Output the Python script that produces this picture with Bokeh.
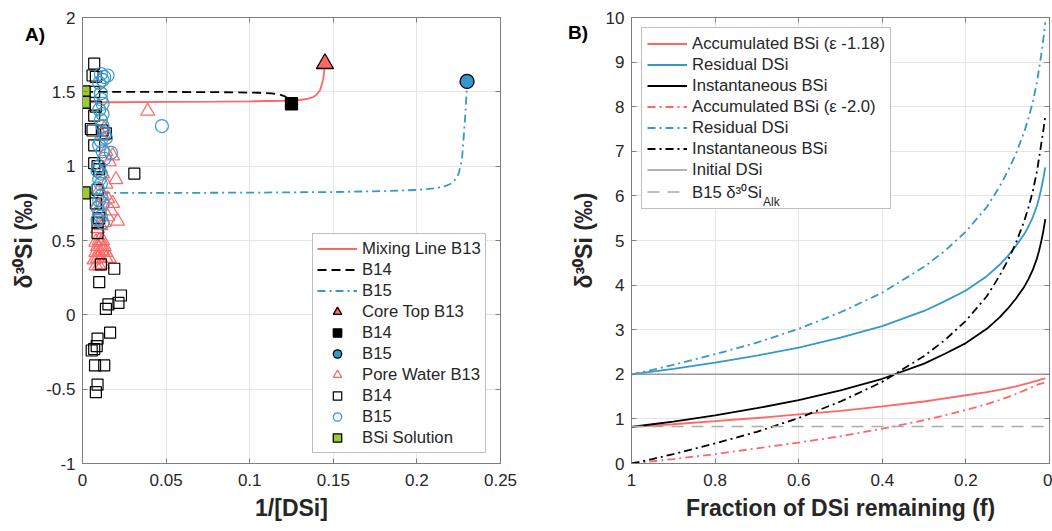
from bokeh.plotting import figure
from bokeh.models import (Range1d, FixedTicker, CustomJSTickFormatter, LinearAxis,
                          Legend, LegendItem)
from bokeh.layouts import row
from bokeh.embed import file_html
from bokeh.resources import INLINE

# ---------------- Panel A data ----------------
mix_b13_x = [0.001, 0.02, 0.05, 0.08, 0.10, 0.12, 0.13, 0.135, 0.138, 0.140, 0.142, 0.143, 0.144, 0.1445, 0.145]
mix_b13_y = [1.43, 1.43, 1.432, 1.434, 1.436, 1.440, 1.445, 1.455, 1.465, 1.48, 1.51, 1.545, 1.59, 1.63, 1.69]
mix_b14_x = [0.001, 0.03, 0.06, 0.09, 0.105, 0.113, 0.118, 0.121, 0.123, 0.1245, 0.125]
mix_b14_y = [1.50, 1.50, 1.499, 1.497, 1.494, 1.490, 1.482, 1.470, 1.455, 1.44, 1.42]
mix_b15_x = [0.001, 0.05, 0.10, 0.15, 0.18, 0.20, 0.21, 0.216, 0.22, 0.223, 0.225, 0.227, 0.228, 0.229, 0.2295, 0.230]
mix_b15_y = [0.82, 0.82, 0.822, 0.826, 0.832, 0.84, 0.85, 0.862, 0.88, 0.91, 0.95, 1.05, 1.20, 1.35, 1.45, 1.57]

core_b13_x = [0.145]
core_b13_y = [1.69]
core_b14_x = [0.125]
core_b14_y = [1.42]
core_b15_x = [0.230]
core_b15_y = [1.57]

pw_b13_x = [0.008, 0.010, 0.012, 0.007, 0.009, 0.011, 0.014, 0.016, 0.008, 0.010, 0.012, 0.014,
            0.009, 0.011, 0.013, 0.010, 0.012, 0.008, 0.009, 0.011, 0.013, 0.015, 0.021, 0.017,
            0.018, 0.015, 0.012, 0.010, 0.014, 0.020, 0.012, 0.016, 0.018, 0.014, 0.012, 0.013,
            0.039, 0.010, 0.009]
pw_b13_y = [0.33, 0.33, 0.34, 0.37, 0.38, 0.38, 0.38, 0.38, 0.42, 0.42, 0.43, 0.42,
            0.46, 0.47, 0.46, 0.50, 0.50, 0.49, 0.58, 0.60, 0.62, 0.66, 0.63, 0.70,
            0.75, 0.78, 0.80, 0.84, 0.88, 0.91, 0.95, 1.03, 1.07, 1.10, 1.20, 1.25,
            1.37, 0.70, 0.74]

pw_b14_x = [0.007, 0.006, 0.008, 0.007, 0.008, 0.007, 0.005, 0.006, 0.014, 0.012, 0.007, 0.007,
            0.009, 0.031, 0.010, 0.009, 0.008, 0.010, 0.009, 0.009, 0.011, 0.019, 0.010, 0.023,
            0.0215, 0.0155, 0.014, 0.0165, 0.009, 0.0085, 0.0055, 0.007, 0.0075, 0.013, 0.009, 0.008]
pw_b14_y = [1.69, 1.61, 1.60, 1.50, 1.40, 1.34, 1.25, 1.24, 1.22, 1.24, 1.14, 1.02,
            1.00, 0.95, 0.98, 0.84, 0.75, 0.65, 0.62, 0.55, 0.34, 0.31, 0.22, 0.13,
            0.08, 0.07, 0.04, -0.12, -0.16, -0.21, -0.24, -0.23, -0.34, -0.34, -0.47, -0.52]

pw_b15_x = [0.011, 0.013, 0.015, 0.012, 0.010, 0.011, 0.011, 0.012, 0.010, 0.012, 0.011, 0.012,
            0.013, 0.014, 0.011, 0.010, 0.012, 0.017, 0.013, 0.010, 0.009, 0.011, 0.010, 0.011,
            0.009, 0.011, 0.010, 0.012, 0.009, 0.010, 0.011, 0.009, 0.012, 0.0475]
pw_b15_y = [1.62, 1.60, 1.61, 1.58, 1.56, 1.49, 1.45, 1.42, 1.38, 1.35, 1.31, 1.27,
            1.22, 1.19, 1.17, 1.14, 1.10, 1.09, 1.05, 1.00, 0.97, 0.95, 0.91, 0.88,
            0.85, 0.80, 0.77, 0.75, 0.72, 0.69, 0.66, 0.64, 0.62, 1.27]

bsi_x = [0.001, 0.001, 0.001]
bsi_y = [1.50, 1.43, 0.82]

a_xticks = [0, 0.05, 0.1, 0.15, 0.2, 0.25]
a_yticks = [-1, -0.5, 0, 0.5, 1, 1.5, 2]

# ---------------- Panel B data ----------------
f_vals = [1.0, 0.95, 0.9, 0.8, 0.7, 0.6, 0.5, 0.4, 0.3, 0.25, 0.2, 0.15, 0.12, 0.1,
          0.08, 0.06, 0.05, 0.04, 0.03, 0.025, 0.02, 0.015, 0.01]
acc_118 = [0.82, 0.85, 0.88, 0.95, 1.02, 1.10, 1.18, 1.28, 1.39, 1.46, 1.53, 1.60, 1.65, 1.69,
           1.73, 1.78, 1.80, 1.83, 1.86, 1.87, 1.89, 1.90, 1.91]
res_118 = [2.00, 2.06, 2.12, 2.26, 2.42, 2.60, 2.82, 3.08, 3.42, 3.64, 3.88, 4.20, 4.45, 4.65,
           4.88, 5.15, 5.32, 5.52, 5.78, 5.95, 6.15, 6.38, 6.64]
inst_118 = [0.82, 0.88, 0.94, 1.08, 1.24, 1.42, 1.64, 1.90, 2.24, 2.46, 2.70, 3.02, 3.27, 3.47,
            3.70, 3.97, 4.14, 4.34, 4.60, 4.77, 4.97, 5.20, 5.48]
acc_20 = [0.00, 0.05, 0.10, 0.21, 0.34, 0.47, 0.61, 0.78, 0.97, 1.08, 1.20, 1.33, 1.42, 1.49,
          1.56, 1.64, 1.68, 1.72, 1.76, 1.78, 1.79, 1.80, 1.82]
res_20 = [2.00, 2.10, 2.21, 2.45, 2.71, 3.02, 3.39, 3.83, 4.41, 4.77, 5.20, 5.75, 6.20, 6.55,
          6.95, 7.45, 7.75, 8.10, 8.55, 8.85, 9.15, 9.50, 9.89]
inst_20 = [0.00, 0.10, 0.21, 0.45, 0.71, 1.02, 1.39, 1.83, 2.41, 2.77, 3.20, 3.75, 4.20, 4.55,
           4.95, 5.45, 5.75, 6.10, 6.55, 6.85, 7.15, 7.45, 7.80]
f_span = [1.0, 0.0]
initial_dsi = [2.0, 2.0]
b15_alk = [0.83, 0.83]

b_xticks = [0, 0.2, 0.4, 0.6, 0.8, 1]
b_yticks = [0, 1, 2, 3, 4, 5, 6, 7, 8, 9, 10]

# ---------------- styling ----------------
FONT = "Liberation Sans"
TXT = "#262626"
AX = "#7f7f7f"
GRID = "#e6e6e6"
RED = "#ff6666"
BLUE = "#3399cc"
GREEN = "#99cc33"
GRAY = "#999999"

fmt = CustomJSTickFormatter(code="return tick.toString()")
nofmt = CustomJSTickFormatter(code="return ''")


def style(p, xticks, yticks, xlabel, ylabel):
    p.outline_line_color = AX
    p.xgrid.grid_line_color = GRID
    p.ygrid.grid_line_color = GRID
    for ax, ticks, lab, so in ((p.xaxis[0], xticks, xlabel, 10), (p.yaxis[0], yticks, ylabel, 7)):
        ax.ticker = FixedTicker(ticks=ticks, minor_ticks=[])
        ax.formatter = fmt
        ax.axis_line_color = AX
        ax.major_tick_line_color = AX
        ax.major_tick_in = 5
        ax.major_tick_out = 0
        ax.minor_tick_line_color = None
        ax.major_label_text_font = FONT
        ax.major_label_text_font_size = "17px"
        ax.major_label_text_color = TXT
        ax.major_label_standoff = so
        ax.axis_label = lab
        ax.axis_label_text_font = FONT
        ax.axis_label_text_font_size = "23px"
        ax.axis_label_text_font_style = "bold"
        ax.axis_label_text_color = TXT
        ax.axis_label_standoff = 6
    p.xgrid.ticker = FixedTicker(ticks=xticks)
    p.ygrid.ticker = FixedTicker(ticks=yticks)
    for loc, ticks in (("right", yticks), ("above", xticks)):
        ax = LinearAxis(ticker=FixedTicker(ticks=ticks, minor_ticks=[]), formatter=nofmt,
                        axis_line_color=AX, major_tick_line_color=AX, major_tick_in=5,
                        major_tick_out=0, minor_tick_line_color=None,
                        major_label_text_font_size="0px", major_label_standoff=0)
        p.add_layout(ax, loc)


def legend(items, **kw):
    return Legend(items=items, label_text_font=FONT, label_text_font_size="16.7px",
                  label_text_color=TXT, glyph_width=40, glyph_height=21, label_height=21,
                  spacing=0, label_standoff=5, border_line_color=AX, **kw)


# ---------------- Panel A ----------------
pa = figure(frame_width=418, frame_height=446, min_border_left=82, min_border_right=20,
            min_border_top=17, min_border_bottom=60, x_range=Range1d(0, 0.25),
            y_range=Range1d(-1, 2), output_backend="svg", toolbar_location=None)
style(pa, a_xticks, a_yticks, "1/[DSi]", "δ³⁰Si (‰)")

r_mix13 = pa.line(mix_b13_x, mix_b13_y, line_color=RED, line_width=1.8)
r_mix14 = pa.line(mix_b14_x, mix_b14_y, line_color="black", line_width=1.8, line_dash="9 5")
r_mix15 = pa.line(mix_b15_x, mix_b15_y, line_color=BLUE, line_width=1.8, line_dash="8 4 2 4")

r_pw13 = pa.scatter(pw_b13_x, pw_b13_y, marker="triangle", size=14, fill_color=None,
                    line_color=RED, line_width=1.2)
r_pw14 = pa.scatter(pw_b14_x, pw_b14_y, marker="square", size=11, fill_color=None,
                    line_color="black", line_width=1.2)
r_pw15 = pa.scatter(pw_b15_x, pw_b15_y, marker="circle", size=13, fill_color=None,
                    line_color=BLUE, line_width=1.2)

r_c13 = pa.scatter(core_b13_x, core_b13_y, marker="triangle", size=17, fill_color=RED,
                   line_color="black", line_width=1.3)
r_c14 = pa.scatter(core_b14_x, core_b14_y, marker="square", size=12, fill_color="black",
                   line_color="black", line_width=1.3)
r_c15 = pa.scatter(core_b15_x, core_b15_y, marker="circle", size=14, fill_color=BLUE,
                   line_color="black", line_width=1.3)
r_bsi = pa.scatter(bsi_x, bsi_y, marker="square", size=12, fill_color=GREEN,
                   line_color="black", line_width=1.3)

pa.add_layout(legend([
    LegendItem(label="Mixing Line B13", renderers=[r_mix13]),
    LegendItem(label="B14", renderers=[r_mix14]),
    LegendItem(label="B15", renderers=[r_mix15]),
    LegendItem(label="Core Top B13", renderers=[r_c13]),
    LegendItem(label="B14", renderers=[r_c14]),
    LegendItem(label="B15", renderers=[r_c15]),
    LegendItem(label="Pore Water B13", renderers=[r_pw13]),
    LegendItem(label="B14", renderers=[r_pw14]),
    LegendItem(label="B15", renderers=[r_pw15]),
    LegendItem(label="BSi Solution", renderers=[r_bsi]),
], location=(230, 10), padding=4, margin=0))

# ---------------- Panel B ----------------
pb = figure(frame_width=418, frame_height=446, min_border_left=111, min_border_right=3,
            min_border_top=17, min_border_bottom=60, x_range=Range1d(1, 0),
            y_range=Range1d(0, 10), output_backend="svg", toolbar_location=None)
style(pb, b_xticks, b_yticks, "Fraction of DSi remaining (f)", "δ³⁰Si (‰)")

DD = "8 4 2 4"
r_b1 = pb.line(f_vals, acc_118, line_color=RED, line_width=1.8)
r_b2 = pb.line(f_vals, res_118, line_color=BLUE, line_width=1.8)
r_b3 = pb.line(f_vals, inst_118, line_color="black", line_width=1.8)
r_b4 = pb.line(f_vals, acc_20, line_color=RED, line_width=1.8, line_dash=DD)
r_b5 = pb.line(f_vals, res_20, line_color=BLUE, line_width=1.8, line_dash=DD)
r_b6 = pb.line(f_vals, inst_20, line_color="black", line_width=1.8, line_dash=DD)
r_b7 = pb.line(f_span, initial_dsi, line_color=GRAY, line_width=1.6)
r_b8 = pb.line(f_span, b15_alk, line_color="#aaaaaa", line_width=1.6, line_dash="12 8")

pb.add_layout(legend([
    LegendItem(label="Accumulated BSi (ε -1.18)", renderers=[r_b1]),
    LegendItem(label="Residual DSi", renderers=[r_b2]),
    LegendItem(label="Instantaneous BSi", renderers=[r_b3]),
    LegendItem(label="Accumulated BSi (ε -2.0)", renderers=[r_b4]),
    LegendItem(label="Residual DSi", renderers=[r_b5]),
    LegendItem(label="Instantaneous BSi", renderers=[r_b6]),
    LegendItem(label="Initial DSi", renderers=[r_b7]),
    LegendItem(label="B15 δ³⁰Si", renderers=[r_b8]),
], location="top_left", padding=5, margin=10))

# panel letters and the subscript of the last legend entry, as page text
TEMPLATE = """
{% block contents %}
<div style="position:absolute;z-index:10;left:25px;top:25px;font:bold 19px/19px 'Liberation Sans';color:#000;">A)</div>
<div style="position:absolute;z-index:10;left:568px;top:23px;font:bold 19px/19px 'Liberation Sans';color:#000;">B)</div>
<div style="position:absolute;z-index:10;left:763px;top:196px;font:12px/12px 'Liberation Sans';color:#262626;">Alk</div>
{{ super() }}
{% endblock %}
"""

layout = row(pa, pb, spacing=0)
open("out.html", "w").write(file_html(layout, INLINE, template=TEMPLATE))
